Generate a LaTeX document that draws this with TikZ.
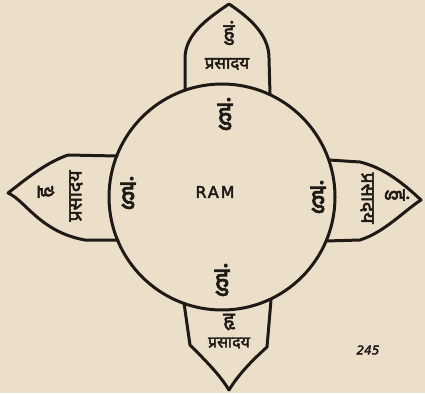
\documentclass[tikz,border=0pt]{standalone}
\usepackage{fontspec}
\setmainfont{Noto Sans}
\newfontfamily\deva[Script=Devanagari, FakeBold=2.6]{Noto Sans}
\newfontfamily\latinhand[LetterSpace=12, FakeBold=3]{DejaVu Sans}
\newfontfamily\numfont[FakeBold=3]{DejaVu Sans}
\definecolor{paper}{HTML}{ECDFC9}
\definecolor{ink}{HTML}{1E1A16}
\begin{document}
\begin{tikzpicture}[x=1pt,y=-1pt,
  outline/.style={draw=ink, line width=3pt, line join=round, line cap=round},
  innerglyph/.style={font=\deva\fontsize{28}{28}\selectfont, text=ink, inner sep=0pt},
  petaltxt/.style={font=\deva\fontsize{17}{17}\selectfont, text=ink, inner sep=0pt},
  sidetxt/.style={font=\deva\fontsize{19.5}{19.5}\selectfont, text=ink, inner sep=0pt},
  petalglyph/.style={font=\deva\fontsize{21}{21}\selectfont, text=ink, inner sep=0pt},
]
\fill[paper] (0,0) rectangle (425,393);
\useasboundingbox (0,0) rectangle (425,393);

% petals
\draw[outline] (185,90) -- (185,57) .. controls (186,35) and (205,20) .. (229,4)
  .. controls (250,18) and (269,35) .. (269,58) -- (270,94);
\draw[outline] (184,303) -- (190,345) .. controls (205,360) and (220,375) .. (229,390)
  .. controls (240,372) and (255,358) .. (267,347) -- (271,300);
\draw[outline] (117,156) -- (68,155) .. controls (45,163) and (25,180) .. (8,193)
  .. controls (25,200) and (40,232) .. (85,240) -- (118,240);
\draw[outline] (329,160) -- (360,162) .. controls (385,168) and (405,185) .. (421,200)
  .. controls (405,210) and (385,232) .. (360,240) -- (326,241);

% circle
\node[circle, outline, minimum size=226pt, inner sep=0pt] (c) at (222,197) {};

% centre text
\node[font=\latinhand\fontsize{16}{16}\selectfont, text=ink] (ram) at (215,192) {RAM};
\node[innerglyph] (hT) at (225,114) {हुं};
\node[innerglyph] (hB) at (222,280) {हुं};
\node[innerglyph] (hL) at (128,193) {हुं};
\node[innerglyph] (hR) at (318,197) {हुं};

% top petal
\node[petalglyph] (tg) at (229,33) {हुं};
\node[petaltxt] (tt) at (227,64) {प्रसादय};
% bottom petal
\node[petalglyph] (bg) at (229,322) {हृ};
\node[petaltxt, font=\deva\fontsize{16}{16}\selectfont] (bt) at (229,343) {प्रसादय};
% left petal
\node[sidetxt, rotate=90] (lt) at (76,196) {प्रसादय};
\node[petalglyph, rotate=90] (lg) at (46,192) {हृ};
% right petal
\node[sidetxt, rotate=-90] (rt) at (367,198) {प्रसादय};
\node[petalglyph, rotate=-90] (rg) at (397,195) {हुं};

% page number
\node[font=\numfont\itshape\fontsize{12}{12}\selectfont, text=ink] (num) at (368,350) {245};
\end{tikzpicture}
\end{document}
